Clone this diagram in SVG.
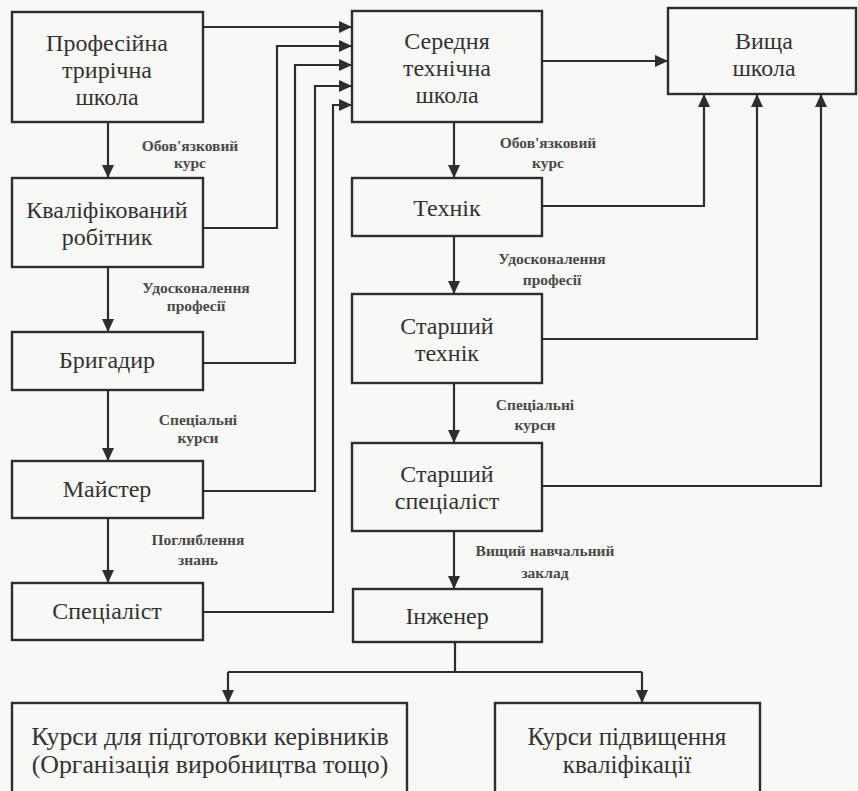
<svg xmlns="http://www.w3.org/2000/svg" width="858" height="791" viewBox="0 0 858 791">
<defs>
<marker id="ah" markerUnits="userSpaceOnUse" markerWidth="14" markerHeight="14" viewBox="0 0 14 14" refX="13" refY="7" orient="auto">
<path d="M0,1 L13,7 L0,13 Z" fill="#2e2e2e"/>
</marker>
<style>
.bx{fill:none;stroke:#2e2e2e;stroke-width:2.4}
.c{fill:none;stroke:#2e2e2e;stroke-width:2.2}
</style>
</defs>
<rect x="0" y="0" width="858" height="791" fill="#f8f8f6"/>

<g font-family="Liberation Serif, serif" font-size="24" fill="#333" text-anchor="middle">
<g id="n1"><rect class="bx" x="12" y="12" width="191" height="110"/><text x="107" y="51">Професійна</text><text x="107" y="78">трирічна</text><text x="107" y="105">школа</text></g>
<g id="n2"><rect class="bx" x="12" y="178" width="191" height="89"/><text x="107" y="218">Кваліфікований</text><text x="107" y="245">робітник</text></g>
<g id="n3"><rect class="bx" x="12" y="332" width="191" height="58"/><text x="107" y="368">Бригадир</text></g>
<g id="n4"><rect class="bx" x="12" y="461" width="191" height="57"/><text x="107" y="497">Майстер</text></g>
<g id="n5"><rect class="bx" x="12" y="583" width="191" height="57"/><text x="107" y="619">Спеціаліст</text></g>

<g id="n6"><rect class="bx" x="352" y="11" width="190" height="111"/><text x="447" y="49">Середня</text><text x="447" y="76">технічна</text><text x="447" y="103">школа</text></g>
<g id="n7"><rect class="bx" x="668" y="8" width="188" height="86"/><text x="764" y="49">Вища</text><text x="764" y="76">школа</text></g>
<g id="n8"><rect class="bx" x="352" y="178" width="190" height="58"/><text x="447" y="216">Технік</text></g>
<g id="n9"><rect class="bx" x="352" y="294" width="190" height="89"/><text x="447" y="334">Старший</text><text x="447" y="361">технік</text></g>
<g id="n10"><rect class="bx" x="352" y="443" width="190" height="88"/><text x="447" y="482">Старший</text><text x="447" y="509">спеціаліст</text></g>
<g id="n11"><rect class="bx" x="353" y="589" width="189" height="53"/><text x="447" y="624">Інженер</text></g>
<g id="n12" font-size="25.8"><rect class="bx" x="12" y="703" width="395" height="100"/><text x="210" y="745">Курси для підготовки керівників</text><text x="210" y="773">(Організація виробництва тощо)</text></g>
<g id="n13" font-size="25.2"><rect class="bx" x="495" y="703" width="265" height="100"/><text x="627" y="745">Курси підвищення</text><text x="627" y="773">кваліфікації</text></g>
</g>

<g id="connectors">
<path class="c" d="M108,122 V178" marker-end="url(#ah)"/>
<path class="c" d="M108,267 V332" marker-end="url(#ah)"/>
<path class="c" d="M108,390 V461" marker-end="url(#ah)"/>
<path class="c" d="M108,518 V583" marker-end="url(#ah)"/>
<path class="c" d="M454,122 V178" marker-end="url(#ah)"/>
<path class="c" d="M454,236 V294" marker-end="url(#ah)"/>
<path class="c" d="M454,383 V443" marker-end="url(#ah)"/>
<path class="c" d="M454,531 V589" marker-end="url(#ah)"/>
<path class="c" d="M203,27 H352" marker-end="url(#ah)"/>
<path class="c" d="M203,228 H277 V46 H352" marker-end="url(#ah)"/>
<path class="c" d="M203,363 H295 V65 H352" marker-end="url(#ah)"/>
<path class="c" d="M203,491 H315 V86 H352" marker-end="url(#ah)"/>
<path class="c" d="M203,612 H333 V105 H352" marker-end="url(#ah)"/>
<path class="c" d="M542,61 H668" marker-end="url(#ah)"/>
<path class="c" d="M542,206 H704 V94" marker-end="url(#ah)"/>
<path class="c" d="M542,339 H757 V94" marker-end="url(#ah)"/>
<path class="c" d="M542,486 H821 V94" marker-end="url(#ah)"/>
<path class="c" d="M455,642 V672"/>
<path class="c" d="M228,672 H642"/>
<path class="c" d="M228,672 V703" marker-end="url(#ah)"/>
<path class="c" d="M642,672 V703" marker-end="url(#ah)"/>
</g>

<g id="labels" font-family="Liberation Serif, serif" font-size="15.5" font-weight="bold" fill="#4a4a4a" text-anchor="middle">
<text x="190" y="151">Обов'язковий</text><text x="190" y="168">курс</text>
<text x="196" y="293">Удосконалення</text><text x="196" y="311">професії</text>
<text x="198" y="425">Спеціальні</text><text x="198" y="443">курси</text>
<text x="198" y="545">Поглиблення</text><text x="198" y="565">знань</text>
<text x="548" y="148">Обов'язковий</text><text x="548" y="168">курс</text>
<text x="552" y="264">Удосконалення</text><text x="552" y="285">професії</text>
<text x="535" y="410">Спеціальні</text><text x="535" y="430">курси</text>
<text x="545" y="556">Вищий навчальний</text><text x="545" y="578">заклад</text>
</g>
</svg>
